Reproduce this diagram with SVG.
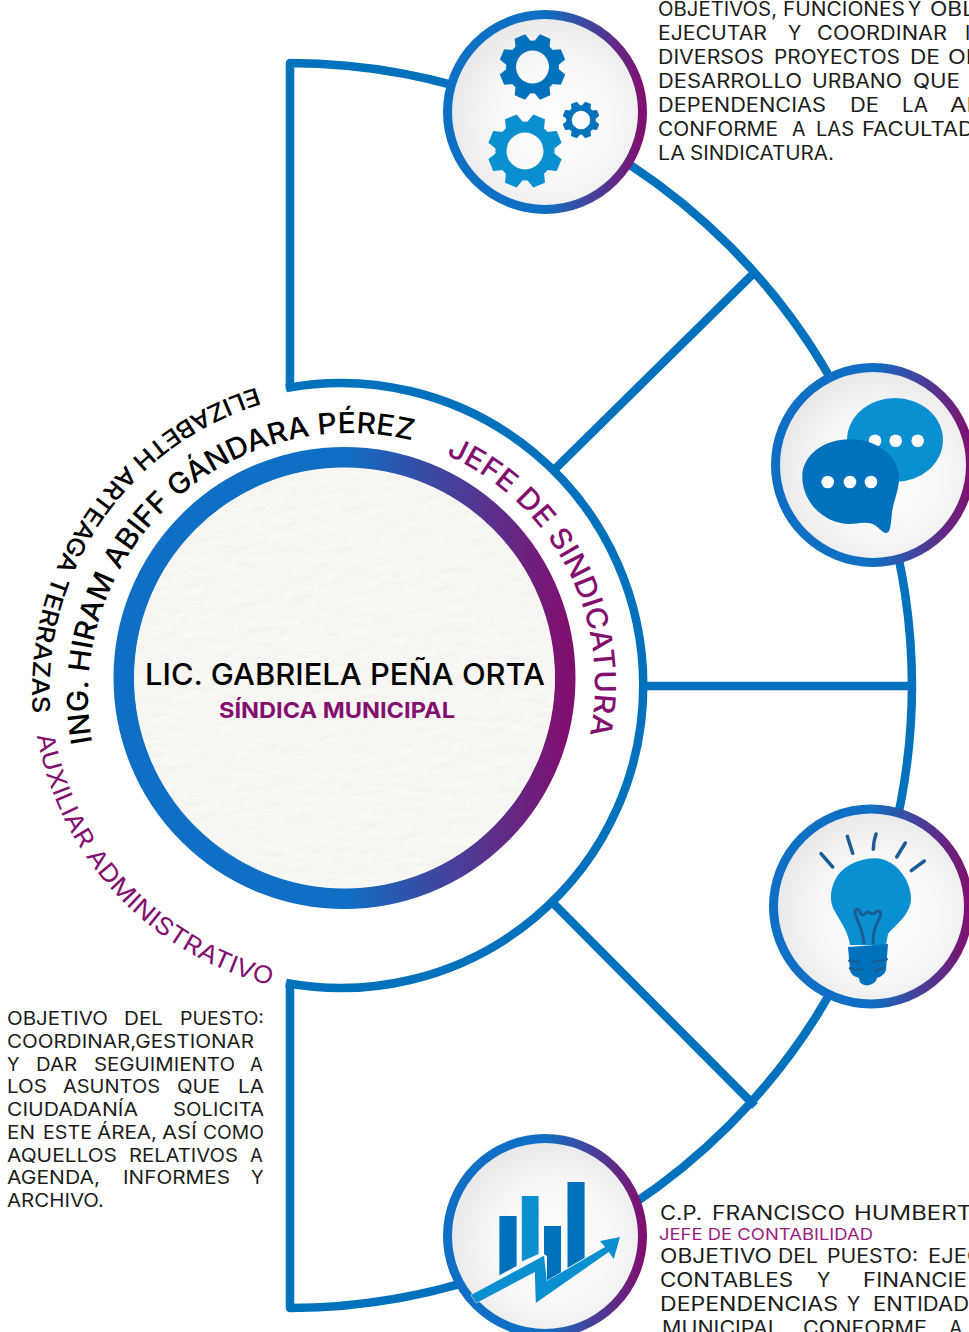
<svg xmlns="http://www.w3.org/2000/svg" width="969" height="1332" viewBox="0 0 969 1332">
<style>
text{font-family:Inter,"Liberation Sans",sans-serif}
.b{fill:none;stroke:#0071bc;stroke-width:8.5;stroke-linejoin:round}
.nr{fill:url(#disc);stroke:url(#rim);stroke-width:9}
.dk{fill:#0071bc}
.lt{fill:#0a8fd0}
.w{fill:#fff}
.ln{fill:none;stroke:#1a5c94;stroke-width:3.5;stroke-linecap:round}
.ln2{fill:none;stroke:#1a5c94;stroke-width:2.5;stroke-linecap:round}
.t{font-size:19.5px;fill:#1d1d1b}
.l{font-size:18.5px;fill:#1d1d1b}
.curve{font-size:29px;font-weight:500;fill:#000}
.pc{font-size:28px;font-weight:500;fill:#83106f}
</style>
<defs>
<linearGradient id="rim" x1="0" y1="0" x2="1" y2="0"><stop offset="0.5" stop-color="#0f6fc4"/><stop offset="1" stop-color="#80106f"/></linearGradient>
<radialGradient id="disc" cx="0.55" cy="0.55" r="0.55"><stop offset="0" stop-color="#fff"/><stop offset="0.55" stop-color="#f8f8f8"/><stop offset="1" stop-color="#e8e8ea"/></radialGradient>
<filter id="paper" x="0" y="0" width="1" height="1"><feTurbulence type="fractalNoise" baseFrequency="0.05 0.1" numOctaves="4" seed="4"/><feDiffuseLighting lighting-color="#f8f6f3" surfaceScale="0.4" diffuseConstant="1.1"><feDistantLight azimuth="60" elevation="65"/></feDiffuseLighting><feComposite in2="SourceAlpha" operator="in"/></filter>
<path id="gear" fill-rule="evenodd" d="M-.8 0A.8 .8 0 1 1 .8 0A.8 .8 0 1 1-.8 0ZM-.5 0A.5 .5 0 1 0 .5 0A.5 .5 0 1 0-.5 0Z"/>
<polygon id="tooth" points="-.25,-.74 -.17,-1 .17,-1 .25,-.74"/>
<g id="gearfull"><use href="#gear"/><use href="#tooth" transform="rotate(22.5)"/><use href="#tooth" transform="rotate(67.5)"/><use href="#tooth" transform="rotate(112.5)"/><use href="#tooth" transform="rotate(157.5)"/><use href="#tooth" transform="rotate(202.5)"/><use href="#tooth" transform="rotate(247.5)"/><use href="#tooth" transform="rotate(292.5)"/><use href="#tooth" transform="rotate(337.5)"/></g>
<path id="arcName" d="M92.4 742.7A262 262 0 0 1 412 440.5"/>
<path id="arcEliz" d="M256.6 387.4A316 316 0 0 0 33 713"/>
<path id="arcJefe" d="M446 455A250 250 0 0 1 590 733"/>
<path id="arcAux" d="M37 735.2A313 313 0 0 0 270 985"/>
</defs>

<g id="connectors">
<path class="b" d="M290 390V63A624 624 0 0 1 912 686A624 624 0 0 1 290 1308V982"/>
<path class="b" d="M286 388A302.5 302.5 0 1 1 286 983"/>
<path class="b" d="M555 469L755 272M552 902L755 1106M641 686H908"/>
</g>

<g id="node-center">
<circle cx="344.5" cy="678" r="220.5" fill="#fff" stroke="url(#rim)" stroke-width="21"/>
<circle cx="344.5" cy="678" r="210.5" fill="#f6f4f1" filter="url(#paper)"/>
<text x="145" y="685" font-size="30" font-weight="500" fill="#000" textLength="400" lengthAdjust="spacingAndGlyphs">LIC. GABRIELA PEÑA ORTA</text>
<text x="219" y="718" font-size="22" font-weight="700" fill="#83106f" textLength="236" lengthAdjust="spacingAndGlyphs">SÍNDICA MUNICIPAL</text>
</g>

<g id="curved-labels">
<text class="curve"><textPath href="#arcName" textLength="522" lengthAdjust="spacingAndGlyphs">ING. HIRAM ABIFF GÁNDARA PÉREZ</textPath></text>
<text class="curve" style="font-size:24px"><textPath href="#arcEliz" textLength="427" lengthAdjust="spacingAndGlyphs">ELIZABETH ARTEAGA TERRAZAS</textPath></text>
<text class="pc" style="font-size:29px"><textPath href="#arcJefe" textLength="340" lengthAdjust="spacingAndGlyphs">JEFE DE SINDICATURA</textPath></text>
<text class="pc" style="font-size:24px;font-weight:400"><textPath href="#arcAux" textLength="362" lengthAdjust="spacingAndGlyphs">AUXILIAR ADMINISTRATIVO</textPath></text>
</g>

<g id="node-gears">
<circle class="nr" cx="545" cy="112" r="97.5"/>
<use href="#gearfull" class="dk" transform="translate(532.5 67) scale(33)"/>
<use href="#gearfull" class="lt" transform="translate(525 151) scale(37)"/>
<use href="#gearfull" class="dk" transform="translate(581 120) scale(18.5)"/>
</g>

<g id="node-chat">
<circle class="nr" cx="873" cy="465" r="97.5"/>
<ellipse class="lt" cx="895" cy="440" rx="48" ry="42"/>
<circle class="w" cx="875" cy="440.7" r="6.3"/><circle class="w" cx="895.7" cy="440.7" r="6.3"/><circle class="w" cx="917.7" cy="440.7" r="6.3"/>
<path class="dk" d="M802.3 476.7C802.3 455 824 439.3 850 439.3C877 439.3 899 456 899 478.3C899 490 894 500 892 512C891 522 891 533 886 533C881 533 877 523 868 523C860 522 856 524 850 524C824 524 802.3 502 802.3 476.7Z"/>
<circle class="w" cx="827.7" cy="482" r="6.3"/><circle class="w" cx="850" cy="482" r="6.3"/><circle class="w" cx="871" cy="482" r="6.3"/>
</g>

<g id="node-bulb">
<circle class="nr" cx="871" cy="906.5" r="97.5"/>
<path class="ln" d="M821 853.7L832.7 867M847.3 836.3L852.7 853.3M876 834Q873.5 841 873.3 849.3M905.3 843L896.7 857M924.3 861L911.3 870.7"/>
<path class="lt" d="M875 858.3C895 858.3 911 880 911 898.3C911 915 895 925 888 934L886 945L850 945C848 930 838 918 833 908C829 898 831 885 838 875C846 865 860 858.3 875 858.3Z"/>
<path class="dk" d="M848 947L888 944L886 970Q884 976 877 978Q876 984 867 985.5Q859 985 859 978Q850 975 850 970Z"/>
<path class="ln" style="stroke-width:3" d="M864 943C862 925 855 918 855 912C855 908 859 909 860 912C862 918 866 912 868 912C871 912 872 916 876 912C879 909 882 912 880 917C876 925 873 930 873 943"/>
<path class="ln2" d="M849.3 960.7L857.7 961.7M874 961.7L886.7 959.3M850 968.3L862.3 970M875 971L883.3 968.3"/>
</g>

<g id="node-chart">
<circle class="nr" cx="545" cy="1236" r="97.5"/>
<polygon class="dk" points="499.4,1216 516.6,1216 516.6,1266 499.4,1275.3"/>
<polygon class="lt" points="521.8,1196 538.6,1196 538.6,1254 521.8,1261.6"/>
<polygon class="dk" points="544,1226 561,1226 561,1273 547,1283 547,1256 544,1254"/>
<polygon class="dk" points="567.5,1182 584.6,1182 584.6,1258 567.5,1268"/>
<polygon class="lt" stroke="#fff" stroke-width="1" paint-order="stroke" points="471,1295 544,1255.7 546.8,1281 605,1247 600,1241 620,1237 613.8,1259 608.7,1252 535.8,1303 534.8,1272 476.4,1303"/>
</g>

<g id="text-top">
<text class="t" y="15.5"><tspan x="658" textLength="119" lengthAdjust="spacingAndGlyphs">OBJETIVOS,</tspan> <tspan x="783" textLength="122" lengthAdjust="spacingAndGlyphs">FUNCIONES</tspan> <tspan x="908">Y</tspan> <tspan x="930" textLength="45" lengthAdjust="spacingAndGlyphs">OBL</tspan></text>
<text class="t" y="39.5"><tspan x="658" textLength="109" lengthAdjust="spacingAndGlyphs">EJECUTAR</tspan> <tspan x="788">Y</tspan> <tspan x="817" textLength="130" lengthAdjust="spacingAndGlyphs">COORDINAR</tspan> <tspan x="965">I</tspan></text>
<text class="t" y="63.5"><tspan x="658" textLength="106" lengthAdjust="spacingAndGlyphs">DIVERSOS</tspan> <tspan x="774" textLength="126" lengthAdjust="spacingAndGlyphs">PROYECTOS</tspan> <tspan x="910" textLength="30" lengthAdjust="spacingAndGlyphs">DE</tspan> <tspan x="948" textLength="33" lengthAdjust="spacingAndGlyphs">OB</tspan></text>
<text class="t" y="87.5"><tspan x="658" textLength="144" lengthAdjust="spacingAndGlyphs">DESARROLLO</tspan> <tspan x="812" textLength="90" lengthAdjust="spacingAndGlyphs">URBANO</tspan> <tspan x="913" textLength="47" lengthAdjust="spacingAndGlyphs">QUE</tspan></text>
<text class="t" y="111.5"><tspan x="658" textLength="168" lengthAdjust="spacingAndGlyphs">DEPENDENCIAS</tspan> <tspan x="850" textLength="29" lengthAdjust="spacingAndGlyphs">DE</tspan> <tspan x="902" textLength="26" lengthAdjust="spacingAndGlyphs">LA</tspan> <tspan x="950" textLength="34" lengthAdjust="spacingAndGlyphs">AD</tspan></text>
<text class="t" y="135.5"><tspan x="658" textLength="120" lengthAdjust="spacingAndGlyphs">CONFORME</tspan> <tspan x="792">A</tspan> <tspan x="816" textLength="38" lengthAdjust="spacingAndGlyphs">LAS</tspan> <tspan x="862" textLength="112" lengthAdjust="spacingAndGlyphs">FACULTAD</tspan></text>
<text class="t" y="159.5"><tspan x="658" textLength="27" lengthAdjust="spacingAndGlyphs">LA</tspan> <tspan x="690" textLength="144" lengthAdjust="spacingAndGlyphs">SINDICATURA.</tspan></text>
</g>

<g id="text-left">
<text class="l" y="1025"><tspan x="7" textLength="101" lengthAdjust="spacingAndGlyphs">OBJETIVO</tspan> <tspan x="124" textLength="39" lengthAdjust="spacingAndGlyphs">DEL</tspan> <tspan x="180" textLength="84" lengthAdjust="spacingAndGlyphs">PUESTO:</tspan></text>
<text class="l" y="1047.8" x="7" textLength="247" lengthAdjust="spacingAndGlyphs">COORDINAR,GESTIONAR</text>
<text class="l" y="1070.5"><tspan x="7">Y</tspan> <tspan x="36" textLength="41" lengthAdjust="spacingAndGlyphs">DAR</tspan> <tspan x="94" textLength="141" lengthAdjust="spacingAndGlyphs">SEGUIMIENTO</tspan> <tspan x="250">A</tspan></text>
<text class="l" y="1093.3"><tspan x="7" textLength="40" lengthAdjust="spacingAndGlyphs">LOS</tspan> <tspan x="63" textLength="97" lengthAdjust="spacingAndGlyphs">ASUNTOS</tspan> <tspan x="177" textLength="43" lengthAdjust="spacingAndGlyphs">QUE</tspan> <tspan x="238" textLength="26" lengthAdjust="spacingAndGlyphs">LA</tspan></text>
<text class="l" y="1116"><tspan x="7" textLength="131" lengthAdjust="spacingAndGlyphs">CIUDADANÍA</tspan> <tspan x="173" textLength="91" lengthAdjust="spacingAndGlyphs">SOLICITA</tspan></text>
<text class="l" y="1138.8"><tspan x="7" textLength="28" lengthAdjust="spacingAndGlyphs">EN</tspan> <tspan x="43" textLength="49" lengthAdjust="spacingAndGlyphs">ESTE</tspan> <tspan x="97" textLength="60" lengthAdjust="spacingAndGlyphs">ÁREA,</tspan> <tspan x="162" textLength="35" lengthAdjust="spacingAndGlyphs">ASÍ</tspan> <tspan x="203" textLength="61" lengthAdjust="spacingAndGlyphs">COMO</tspan></text>
<text class="l" y="1161.5"><tspan x="7" textLength="110" lengthAdjust="spacingAndGlyphs">AQUELLOS</tspan> <tspan x="129" textLength="109" lengthAdjust="spacingAndGlyphs">RELATIVOS</tspan> <tspan x="250">A</tspan></text>
<text class="l" y="1184.3"><tspan x="7" textLength="93" lengthAdjust="spacingAndGlyphs">AGENDA,</tspan> <tspan x="123" textLength="107" lengthAdjust="spacingAndGlyphs">INFORMES</tspan> <tspan x="251">Y</tspan></text>
<text class="l" y="1207" x="7" textLength="97" lengthAdjust="spacingAndGlyphs">ARCHIVO.</text>
</g>

<g id="text-bottom">
<text class="t" y="1220"><tspan x="660" textLength="42" lengthAdjust="spacingAndGlyphs">C.P.</tspan> <tspan x="712" textLength="133" lengthAdjust="spacingAndGlyphs">FRANCISCO</tspan> <tspan x="854" textLength="118" lengthAdjust="spacingAndGlyphs">HUMBERT</tspan></text>
<text x="659" y="1240" font-size="16.5" fill="#9b1c7f" textLength="214" lengthAdjust="spacingAndGlyphs">JEFE DE CONTABILIDAD</text>
<text class="t" y="1263"><tspan x="660" textLength="112" lengthAdjust="spacingAndGlyphs">OBJETIVO</tspan> <tspan x="778" textLength="40" lengthAdjust="spacingAndGlyphs">DEL</tspan> <tspan x="827" textLength="91" lengthAdjust="spacingAndGlyphs">PUESTO:</tspan> <tspan x="928" textLength="55" lengthAdjust="spacingAndGlyphs">EJEC</tspan></text>
<text class="t" y="1287"><tspan x="660" textLength="133" lengthAdjust="spacingAndGlyphs">CONTABLES</tspan> <tspan x="817">Y</tspan> <tspan x="863" textLength="104" lengthAdjust="spacingAndGlyphs">FINANCIE</tspan></text>
<text class="t" y="1311"><tspan x="660" textLength="178" lengthAdjust="spacingAndGlyphs">DEPENDENCIAS</tspan> <tspan x="847">Y</tspan> <tspan x="873" textLength="96" lengthAdjust="spacingAndGlyphs">ENTIDAD</tspan></text>
<text class="t" y="1335"><tspan x="662" textLength="118" lengthAdjust="spacingAndGlyphs">MUNICIPAL</tspan> <tspan x="803" textLength="124" lengthAdjust="spacingAndGlyphs">CONFORME</tspan> <tspan x="949">A</tspan></text>
</g>
</svg>
